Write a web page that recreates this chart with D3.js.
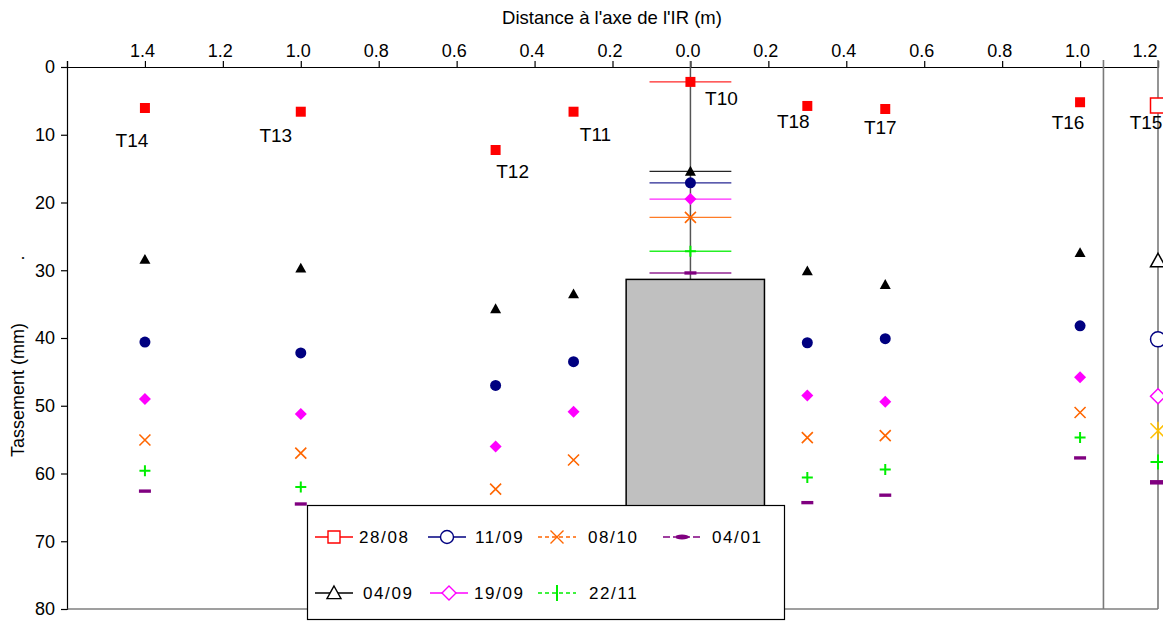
<!DOCTYPE html>
<html>
<head>
<meta charset="utf-8">
<script src="https://cdn.jsdelivr.net/npm/d3@7"></script>
<style>
  html, body { margin: 0; padding: 0; background: #ffffff; }
  svg { display: block; font-family: "Liberation Sans", Arial, sans-serif; }
</style>
</head>
<body>
<svg id="chart" width="1163" height="621"></svg>
<script>
// ---- Data -------------------------------------------------------------
// Settlement plates and their signed distance to the inclusion axis (m)
const stations  = ["T14", "T13", "T12", "T11", "T10", "T18", "T17", "T16", "T15"];
const distances = [-1.4, -1.0, -0.5, -0.3, 0.0, 0.3, 0.5, 1.0, 1.2];

// Survey dates (legend order)
const dates = ["28/08", "04/09", "11/09", "19/09", "08/10", "22/11", "04/01"];

// Settlement (mm) per date, in station order (null = not visible)
const s2808 = [6.05, 6.6, 12.25, 6.6, 2.2, 5.75, 6.2, 5.2, 5.7];
const s0409 = [28.4, 29.7, 35.7, 33.5, 15.4, 30.1, 32.1, 27.4, 28.6];
const s1109 = [40.6, 42.2, 47.0, 43.5, 17.1, 40.7, 40.1, 38.2, 40.2];
const s1909 = [49.0, 51.2, 56.0, 50.9, 19.5, 48.5, 49.4, 45.8, 48.6];
const s0810 = [55.05, 57.0, 62.3, 58.0, 22.2, 54.7, 54.4, 51.0, 53.7];
const s2211 = [59.6, 62.0, null, null, 27.2, 60.6, 59.4, 54.7, 58.3];
const s0401 = [62.6, 64.5, null, null, 30.4, 64.3, 63.2, 57.7, 61.3];

// Horizontal uncertainty on the T10 position (m)
const t10Error = 0.105;

// Rigid inclusion outline (m, mm) and the reference line near x = 1.06 m
const inclusionX = [-0.165, 0.19];
const inclusionY = [31.35, 80];
const refLineX = 1.06;

// Axis ticks
const xTicks      = [-1.6, -1.4, -1.2, -1.0, -0.8, -0.6, -0.4, -0.2, 0.0, 0.2, 0.4, 0.6, 0.8, 1.0, 1.2];
const xTickLabels = ["", "1.4", "1.2", "1.0", "0.8", "0.6", "0.4", "0.2", "0.0", "0.2", "0.4", "0.6", "0.8", "1.0", "1.2"];
const yTicks      = [0, 10, 20, 30, 40, 50, 60, 70, 80];

// ---- Layout & styles --------------------------------------------------
const W = 1163, H = 621;
const plot = { left: 67, right: 1158, top: 67, bottom: 609 };

const seriesStyle = [
  { values: s2808, color: "#ff0000", shape: "square",   special: "#ff0000", lineDash: null,        legendShape: "square"   },
  { values: s0409, color: "#000000", shape: "triangle", special: "#000000", lineDash: null,        legendShape: "triangle" },
  { values: s1109, color: "#000080", shape: "circle",   special: "#000080", lineDash: null,        legendShape: "circle"   },
  { values: s1909, color: "#ff00ff", shape: "diamond",  special: "#ff00ff", lineDash: null,        legendShape: "diamond"  },
  { values: s0810, color: "#ff6600", shape: "x",        special: "#ffc000", lineDash: "4,3",       legendShape: "x"        },
  { values: s2211, color: "#00ee00", shape: "plus",     special: "#00ee00", lineDash: "4,3",       legendShape: "vbar"     },
  { values: s0401, color: "#800080", shape: "dash",     special: "#800080", lineDash: "7,3,2,3",   legendShape: "ellipse"  }
];

// Station label offsets from the 28/08 marker (px)
const labelOffsets = [[-13, 32], [-25, 23], [17, 21], [22, 22.5], [31, 16], [-14, 15], [-5, 18.5], [-12, 19.5], [-12, 17]];

// ---- Scales -----------------------------------------------------------
const x = d3.scaleLinear().domain([-1.6, 1.2]).range([plot.left, plot.right]);
const y = d3.scaleLinear().domain([0, 80]).range([plot.top, plot.bottom]);

const svg = d3.select("#chart");

// Marker path generator, s = half size
function markerPath(shape, s) {
  switch (shape) {
    case "square":   return `M${-s},${-s}H${s}V${s}H${-s}Z`;
    case "triangle": return `M0,${-s}L${s},${s * 0.8}L${-s},${s * 0.8}Z`;
    case "circle":   return `M${-s},0A${s},${s} 0 1,0 ${s},0A${s},${s} 0 1,0 ${-s},0Z`;
    case "diamond":  return `M0,${-s}L${s},0L0,${s}L${-s},0Z`;
    case "x":        return `M${-s},${-s}L${s},${s}M${-s},${s}L${s},${-s}`;
    case "star":     return `M${-s},${-s}L${s},${s}M${-s},${s}L${s},${-s}M0,${-s * 1.2}V${s * 1.2}`;
    case "plus":     return `M${-s},0H${s}M0,${-s}V${s}`;
    case "dash":     return `M${-s},${-s * 0.28}H${s}V${s * 0.28}H${-s}Z`;
    case "vbar":     return `M0,${-s}V${s}`;
    case "ellipse":  return `M${-s},0A${s},${s * 0.35} 0 1,0 ${s},0A${s},${s * 0.35} 0 1,0 ${-s},0Z`;
  }
}
const strokeShapes = new Set(["x", "star", "plus", "vbar"]);

function drawMarker(g, shape, s, color, filled, sw) {
  const p = g.append("path").attr("d", markerPath(shape, s));
  if (strokeShapes.has(shape)) {
    p.attr("fill", "none").attr("stroke", color).attr("stroke-width", sw || 1.6);
  } else if (filled) {
    p.attr("fill", color).attr("stroke", "none");
  } else {
    p.attr("fill", "#ffffff").attr("stroke", color).attr("stroke-width", sw || 1.4);
  }
  return p;
}

// ---- Axes -------------------------------------------------------------
const xAxis = d3.axisTop(x)
  .tickValues(xTicks)
  .tickSize(6)
  .tickPadding(4)
  .tickFormat((d, i) => xTickLabels[i]);

const gx = svg.append("g").attr("transform", `translate(0,${plot.top})`).call(xAxis);
gx.select(".domain").attr("stroke", "#000").attr("stroke-width", 1.2);
gx.selectAll(".tick line").attr("stroke", "#000").attr("stroke-width", 1.2);
gx.selectAll(".tick text")
  .attr("font-size", 18)
  .attr("fill", "#000")
  .attr("font-family", "Liberation Sans, Arial, sans-serif")
  .attr("dx", -3);
// last label sits against the frame edge
gx.selectAll(".tick text").filter((d, i) => i === xTicks.length - 1)
  .attr("text-anchor", "end").attr("dx", -1);

const yAxis = d3.axisLeft(y).tickValues(yTicks).tickSize(6).tickPadding(6);
const gy = svg.append("g").attr("transform", `translate(${plot.left},0)`).call(yAxis);
gy.select(".domain").attr("stroke", "#000").attr("stroke-width", 1.2);
gy.selectAll(".tick line").attr("stroke", "#000").attr("stroke-width", 1.2);
gy.selectAll(".tick text")
  .attr("font-size", 18)
  .attr("fill", "#000")
  .attr("font-family", "Liberation Sans, Arial, sans-serif");

// Bottom frame
svg.append("line")
  .attr("x1", plot.left).attr("x2", plot.right)
  .attr("y1", y(80)).attr("y2", y(80))
  .attr("stroke", "#404040").attr("stroke-width", 1.2);

// Axis titles
svg.append("text")
  .attr("x", 612).attr("y", 24)
  .attr("text-anchor", "middle")
  .attr("font-size", 18.5)
  .text("Distance à l'axe de l'IR (m)");

svg.append("text")
  .attr("transform", `translate(24,${390}) rotate(-90)`)
  .attr("text-anchor", "middle")
  .attr("font-size", 18)
  .text("Tassement (mm)");
svg.append("text")
  .attr("transform", `translate(24,${258}) rotate(-90)`)
  .attr("text-anchor", "middle")
  .attr("font-size", 18)
  .text(".");

// ---- Reference lines and inclusion ------------------------------------
svg.append("line")
  .attr("x1", x(refLineX)).attr("x2", x(refLineX))
  .attr("y1", plot.top - 7).attr("y2", y(80))
  .attr("stroke", "#7a7a7a").attr("stroke-width", 1.6);
svg.append("line")
  .attr("x1", x(1.2)).attr("x2", x(1.2))
  .attr("y1", plot.top - 7).attr("y2", y(80))
  .attr("stroke", "#7a7a7a").attr("stroke-width", 1.6);

// Axis of the inclusion down to its head
svg.append("line")
  .attr("x1", x(0)).attr("x2", x(0))
  .attr("y1", plot.top - 6).attr("y2", y(inclusionY[0]))
  .attr("stroke", "#555").attr("stroke-width", 1.5);

svg.append("rect")
  .attr("x", x(inclusionX[0])).attr("y", y(inclusionY[0]))
  .attr("width", x(inclusionX[1]) - x(inclusionX[0]))
  .attr("height", y(inclusionY[1]) - y(inclusionY[0]))
  .attr("fill", "#c0c0c0").attr("stroke", "#000").attr("stroke-width", 1.5);

// ---- Series -----------------------------------------------------------
const t10 = stations.indexOf("T10");
const t15 = stations.indexOf("T15");

// Horizontal error bars on T10
seriesStyle.forEach(sr => {
  const v = sr.values[t10];
  if (v == null) return;
  svg.append("line")
    .attr("x1", x(distances[t10] - t10Error)).attr("x2", x(distances[t10] + t10Error))
    .attr("y1", y(v)).attr("y2", y(v))
    .attr("stroke", sr.color).attr("stroke-width", 1.4).attr("opacity", 0.85);
});

// Filled markers for the main stations, open ones for T15
const markers = svg.append("g");
seriesStyle.forEach(sr => {
  sr.values.forEach((v, i) => {
    if (v == null) return;
    const g = markers.append("g").attr("transform", `translate(${x(distances[i])},${y(v)})`);
    if (i === t15) {
      const shape = sr.shape === "x" ? "star" : sr.shape;
      drawMarker(g, shape, shape === "dash" ? 8 : 7.5, sr.special, shape === "dash", shape === "plus" ? 2 : 1.5);
    } else {
      const s = { square: 5, triangle: 5.5, circle: 5.5, diamond: 6, x: 5.5, plus: 5.5, dash: 6 }[sr.shape];
      drawMarker(g, sr.shape, s, sr.color, true, sr.shape === "plus" ? 2 : 1.6);
    }
  });
});

// Station labels
svg.append("g").selectAll("text")
  .data(stations)
  .join("text")
  .attr("x", (d, i) => x(distances[i]) + labelOffsets[i][0])
  .attr("y", (d, i) => y(s2808[i]) + labelOffsets[i][1])
  .attr("dy", "0.36em")
  .attr("text-anchor", "middle")
  .attr("font-size", 19)
  .text(d => d);

// ---- Legend -----------------------------------------------------------
const legend = svg.append("g");
legend.append("rect")
  .attr("x", 307.5).attr("y", 505.5).attr("width", 477).attr("height", 114)
  .attr("fill", "#fff").attr("stroke", "#000").attr("stroke-width", 1.2);

const legendPos = [
  { x0: 315, tx: 359, row: 537 },
  { x0: 315, tx: 363, row: 593 },
  { x0: 428, tx: 475, row: 537 },
  { x0: 430, tx: 474, row: 593 },
  { x0: 538, tx: 588, row: 537 },
  { x0: 538, tx: 589, row: 593 },
  { x0: 663, tx: 712, row: 537 }
];

seriesStyle.forEach((sr, i) => {
  const p = legendPos[i];
  const g = legend.append("g");
  g.append("line")
    .attr("x1", p.x0).attr("x2", p.x0 + 38)
    .attr("y1", p.row).attr("y2", p.row)
    .attr("stroke", sr.color).attr("stroke-width", 1.3)
    .attr("stroke-dasharray", sr.lineDash);
  const m = g.append("g").attr("transform", `translate(${p.x0 + 19},${p.row})`);
  const sz = { square: 6, triangle: 7, circle: 6.5, diamond: 7, x: 6.5, vbar: 8, ellipse: 7 }[sr.legendShape];
  drawMarker(m, sr.legendShape, sz, sr.color, sr.legendShape === "ellipse", sr.legendShape === "vbar" ? 2 : 1.4);
  g.append("text")
    .attr("x", p.tx).attr("y", p.row)
    .attr("dy", "0.36em")
    .attr("font-size", 17)
    .attr("letter-spacing", 1.6)
    .text(dates[i]);
});
</script>
</body>
</html>
